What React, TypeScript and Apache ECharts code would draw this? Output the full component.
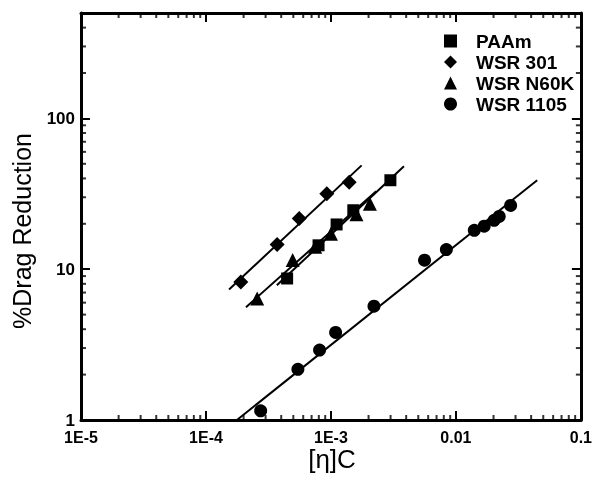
import React, { useEffect, useRef } from "react";
import * as echarts from "echarts";

// Axis ticks / labels
const xTickValues = [1e-5, 1e-4, 1e-3, 1e-2, 1e-1];
const xTickLabels = ["1E-5", "1E-4", "1E-3", "0.01", "0.1"];
const yTickValues = [1, 10, 100];
const yTickLabels = ["1", "10", "100"];
const xRange = [1e-5, 0.1];
const yRange = [1, 500];

// Series data
const seriesNames = ["PAAm", "WSR 301", "WSR N60K", "WSR 1105"];

const paamX = [4.46e-4, 7.96e-4, 1.11e-3, 1.51e-3, 2.99e-3];
const paamY = [8.68, 14.4, 19.8, 24.6, 38.9];

const wsr301X = [1.9e-4, 3.71e-4, 5.58e-4, 9.27e-4, 1.4e-3];
const wsr301Y = [8.24, 14.6, 21.7, 31.7, 37.7];

const n60kX = [2.57e-4, 4.94e-4, 7.48e-4, 1.0e-3, 1.6e-3, 2.05e-3];
const n60kY = [6.4, 11.5, 14.1, 17.2, 23.1, 27.2];

const wsr1105X = [2.74e-4, 5.44e-4, 8.11e-4, 1.09e-3, 2.21e-3, 5.61e-3, 8.39e-3, 0.01403, 0.01683, 0.02023, 0.0222, 0.0274];
const wsr1105Y = [1.15, 2.17, 2.91, 3.81, 5.69, 11.47, 13.5, 18.1, 19.3, 21.1, 22.4, 26.5];

// Power-law fit lines (end points)
const paamFitX = [3.69e-4, 3.84e-3];
const paamFitY = [7.83, 48.1];
const wsr301FitX = [1.53e-4, 1.76e-3];
const wsr301FitY = [7.34, 48.8];
const n60kFitX = [2.09e-4, 2.3e-3];
const n60kFitY = [5.6, 32.9];
const wsr1105FitX = [1.77e-4, 0.0447];
const wsr1105FitY = [1.0, 38.9];

const FONT = "Liberation Sans";

function zip(xs: number[], ys: number[]) {
  return xs.map((x, i) => [x, ys[i]]);
}

function minorTicks(lo: number, hi: number) {
  const out: number[] = [];
  for (let e = Math.floor(Math.log10(lo)); e < Math.ceil(Math.log10(hi)); e++) {
    for (let k = 2; k <= 9; k++) {
      const v = k * Math.pow(10, e);
      if (v > lo * 1.0001 && v < hi * 0.9999) out.push(v);
    }
  }
  return out;
}

function labelFor(values: number[], labels: string[]) {
  return (v: number) => {
    const i = values.findIndex((t) => Math.abs(Math.log10(v) - Math.log10(t)) < 1e-3);
    return i >= 0 ? labels[i] : "";
  };
}

// inward tick marks drawn as thin rect symbols anchored on the frame edges
function tickMarks(values: number[], dir: "x" | "y", len: number, w: number): any[] {
  const base = {
    type: "scatter",
    silent: true,
    clip: false,
    symbol: "rect",
    itemStyle: { color: "#000" },
  };
  if (dir === "x") {
    return [
      { ...base, data: values.map((v) => [v, yRange[0]]), symbolSize: [w, len], symbolOffset: [0, -len / 2] },
      { ...base, data: values.map((v) => [v, yRange[1]]), symbolSize: [w, len], symbolOffset: [0, len / 2] },
    ];
  }
  return [
    { ...base, data: values.map((v) => [xRange[0], v]), symbolSize: [len, w], symbolOffset: [len / 2, 0] },
    { ...base, data: values.map((v) => [xRange[1], v]), symbolSize: [len, w], symbolOffset: [-len / 2, 0] },
  ];
}

export default function App() {
  const ref = useRef<HTMLDivElement>(null);
  useEffect(() => {
    if (!ref.current) return;
    const chart = echarts.init(ref.current, null, { renderer: "svg" });

    const tickStyle = { show: true, inside: true, length: 9, lineStyle: { color: "#000", width: 2 } };
    const axisLine = { show: true, onZero: false, lineStyle: { color: "#000", width: 3 } };

    const fit = (xs: number[], ys: number[]) => ({
      type: "line",
      data: zip(xs, ys),
      symbol: "none",
      silent: true,
      lineStyle: { color: "#000", width: 2 },
    });

    const scatter = (name: string, xs: number[], ys: number[], symbol: string, size: number) => ({
      type: "scatter",
      name,
      data: zip(xs, ys),
      symbol,
      symbolSize: size,
      itemStyle: { color: "#000", opacity: 1 },
    });

    chart.setOption({
      animation: false,
      grid: { left: 81, right: 12, top: 13, bottom: 65 },
      legend: {
        data: seriesNames,
        orient: "vertical",
        left: 439,
        top: 26,
        itemWidth: 13,
        itemHeight: 13,
        itemGap: 1,
        selectedMode: false,
        textStyle: {
          fontFamily: FONT,
          fontWeight: "bold",
          fontSize: 19,
          lineHeight: 20,
          color: "#000",
          padding: [0, 0, 0, 14],
        },
      },
      xAxis: [
        {
          type: "log",
          min: xRange[0],
          max: xRange[1],
          position: "bottom",
          axisLine,
          axisTick: tickStyle,
          splitLine: { show: false },
          axisLabel: {
            formatter: labelFor(xTickValues, xTickLabels),
            fontFamily: FONT,
            fontWeight: "bold",
            fontSize: 16,
            lineHeight: 14,
            color: "#000",
            margin: 10,
          },
        },
        {
          type: "log",
          min: xRange[0],
          max: xRange[1],
          position: "top",
          axisLine,
          axisTick: tickStyle,
          splitLine: { show: false },
          axisLabel: { show: false },
        },
      ],
      yAxis: [
        {
          type: "log",
          min: yRange[0],
          max: yRange[1],
          position: "left",
          axisLine,
          axisTick: tickStyle,
          splitLine: { show: false },
          axisLabel: {
            formatter: labelFor(yTickValues, yTickLabels),
            fontFamily: FONT,
            fontWeight: "bold",
            fontSize: 17,
            lineHeight: 12,
            color: "#000",
            margin: 6,
          },
        },
        {
          type: "log",
          min: yRange[0],
          max: yRange[1],
          position: "right",
          axisLine,
          axisTick: tickStyle,
          splitLine: { show: false },
          axisLabel: { show: false },
        },
      ],
      graphic: [
        {
          type: "text",
          x: 22,
          y: 231,
          rotation: Math.PI / 2,
          style: {
            text: "%Drag Reduction",
            fontFamily: FONT,
            fontSize: 25,
            fill: "#000",
            align: "center",
            verticalAlign: "middle",
          },
        },
        {
          type: "text",
          x: 332,
          y: 459,
          style: {
            text: "[η]C",
            fontFamily: FONT,
            fontSize: 26,
            fill: "#000",
            align: "center",
            verticalAlign: "middle",
          },
        },
      ],
      series: [
        fit(paamFitX, paamFitY),
        fit(wsr301FitX, wsr301FitY),
        fit(n60kFitX, n60kFitY),
        fit(wsr1105FitX, wsr1105FitY),
        scatter(seriesNames[0], paamX, paamY, "rect", 12),
        scatter(seriesNames[1], wsr301X, wsr301Y, "diamond", 15),
        scatter(seriesNames[2], n60kX, n60kY, "triangle", 14),
        scatter(seriesNames[3], wsr1105X, wsr1105Y, "circle", 13),
        ...tickMarks(minorTicks(xRange[0], xRange[1]), "x", 5, 2),
        ...tickMarks(minorTicks(yRange[0], yRange[1]), "y", 5, 2),
      ],
    });

    return () => chart.dispose();
  }, []);

  return <div ref={ref} style={{ position: "fixed", left: 0, top: 0, width: 595, height: 485 }} />;
}
